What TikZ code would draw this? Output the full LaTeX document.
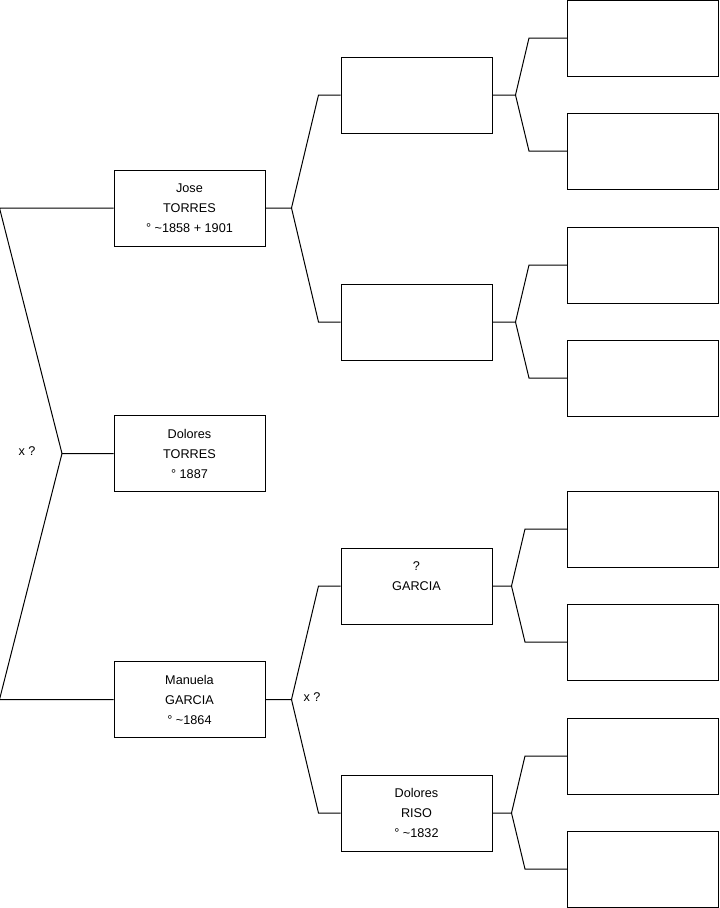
\documentclass[tikz,border=0pt]{standalone}
\usepackage{fontspec}
\setmainfont{Liberation Sans}
\usepackage{tikz}
\usetikzlibrary{positioning,calc}

\begin{document}
\begin{tikzpicture}[
  x=0.75pt, y=-0.75pt,
  person/.style={rectangle, draw=black, line width=0.75pt, fill=white,
                 minimum width=113.25pt, minimum height=57pt, inner sep=0pt,
                 font=\fontsize{9.5}{15}\selectfont, align=center},
  wire/.style={line width=0.75pt, color=black},
  unionlbl/.style={font=\fontsize{9.5}{15}\selectfont},
]
  \useasboundingbox (0,0) rectangle (719,908);
  % generation 1
  \node[person](jose) at (189.5,208){Jose\\TORRES\\° \textasciitilde1858 + 1901};
  \node[person](dolores) at (189.5,453.5){Dolores\\TORRES\\° 1887};
  \node[person](manuela) at (189.5,699.5){Manuela\\GARCIA\\° \textasciitilde1864};
  % generation 2
  \node[person](p1) at (416.5,95){};
  \node[person](p2) at (416.5,322){};
  \node[person](p3) at (416.5,586){?\\GARCIA\\\mbox{}};
  \node[person](p4) at (416.5,813){Dolores\\RISO\\° \textasciitilde1832};
  % generation 3
  \node[person](q1) at (643,38){}; \node[person](q2) at (643,151){};
  \node[person](q3) at (643,265){}; \node[person](q4) at (643,378){};
  \node[person](q5) at (643,529){}; \node[person](q6) at (643,642){};
  \node[person](q7) at (643,756){}; \node[person](q8) at (643,869){};
  % couples
  \coordinate (jm) at (62,453.5);
  \draw[wire](jose.west)--++(-114,0)--(jm)--(dolores.west);
  \draw[wire](manuela.west)--++(-114,0)--(jm);
  \node[unionlbl](x1) at (27,451){x ?};
  \draw[wire](jose.east)--++(26,0)coordinate(j1)--($(p1.west)+(-22,0)$)--(p1.west);
  \draw[wire](j1)--($(p2.west)+(-22,0)$)--(p2.west);
  \draw[wire](manuela.east)--++(26,0)coordinate(j2)--($(p3.west)+(-22,0)$)--(p3.west);
  \draw[wire](j2)--($(p4.west)+(-22,0)$)--(p4.west);
  \node[unionlbl](x2) at (312,697){x ?};
  \draw[wire](p1.east)--++(23,0)coordinate(j3)--($(q1.west)+(-38,0)$)--(q1.west);
  \draw[wire](j3)--($(q2.west)+(-38,0)$)--(q2.west);
  \draw[wire](p2.east)--++(23,0)coordinate(j4)--($(q3.west)+(-38,0)$)--(q3.west);
  \draw[wire](j4)--($(q4.west)+(-38,0)$)--(q4.west);
  \draw[wire](p3.east)--++(19,0)coordinate(j5)--($(q5.west)+(-42,0)$)--(q5.west);
  \draw[wire](j5)--($(q6.west)+(-42,0)$)--(q6.west);
  \draw[wire](p4.east)--++(19,0)coordinate(j6)--($(q7.west)+(-42,0)$)--(q7.west);
  \draw[wire](j6)--($(q8.west)+(-42,0)$)--(q8.west);
\end{tikzpicture}
\end{document}
